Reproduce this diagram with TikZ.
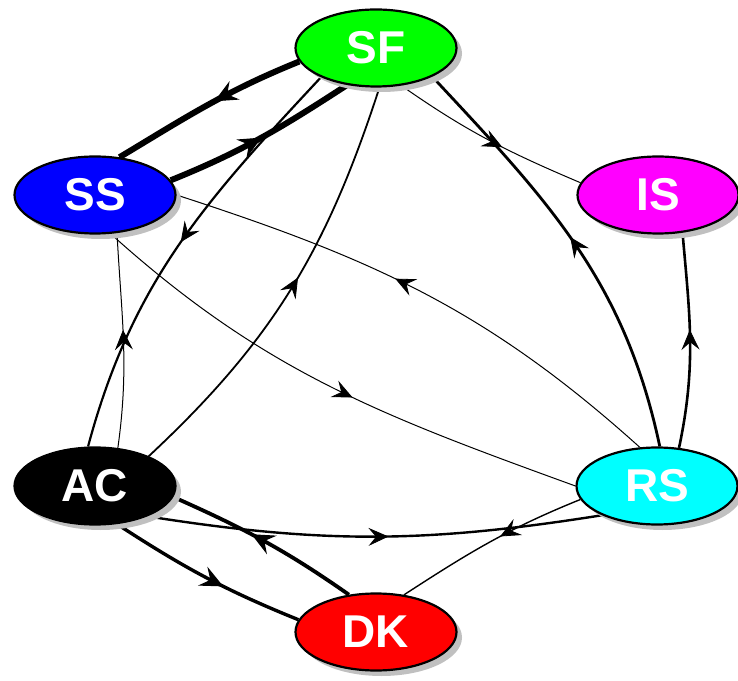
\documentclass[tikz,border=0pt]{standalone}
\usepackage{fontspec}
\setmainfont{Liberation Sans}
\usetikzlibrary{shapes.geometric,arrows.meta,decorations.markings,shadows}
\pgfdeclarelayer{bg}
\pgfsetlayers{bg,main}
\definecolor{cSF}{RGB}{0,255,0}
\definecolor{cSS}{RGB}{0,0,255}
\definecolor{cIS}{RGB}{255,0,255}
\definecolor{cRS}{RGB}{0,255,255}
\definecolor{cDK}{RGB}{255,0,0}
\definecolor{cShadow}{RGB}{192,192,192}
\tikzset{
  vtx/.style={ellipse, draw=black, line width=2.2pt, minimum width=161pt, minimum height=77pt,
    inner sep=0pt, text=white, font=\fontsize{46}{46}\selectfont\bfseries,
    drop shadow={shadow xshift=5.5pt, shadow yshift=-5.5pt, fill=cShadow, opacity=1}},
  lnk/.style={line width=#1},
  am/.style={postaction={decorate}, decoration={markings,
    mark=at position #1 with {\arrow{Stealth[length=20pt,width=18pt,inset=7.5pt,line width=0.8pt]}}}},
  amb/.style={postaction={decorate}, decoration={markings,
    mark=at position #1 with {\arrow{Stealth[length=23pt,width=21pt,inset=8.5pt,line width=1pt]}}}}
}
\begin{document}
\begin{tikzpicture}[x=1pt,y=1pt]
\useasboundingbox (0,0) rectangle (738,680);
\node[vtx, fill=cSF]   (SF) at (376,632) {SF};
\node[vtx, fill=cSS]   (SS) at (95,485)  {SS};
\node[vtx, fill=cIS]   (IS) at (658,485) {IS};
\node[vtx, fill=black] (AC) at (95,194)  {AC};
\node[vtx, fill=cRS]   (RS) at (657,194) {RS};
\node[vtx, fill=cDK]   (DK) at (376,48)  {DK};
\begin{pgfonlayer}{bg}
\draw[lnk=6pt,   amb=0.46] (SF.190) to[out=202,in=31] (SS.57);
\draw[lnk=6pt,   amb=0.5]  (SS.11) to[out=22,in=213] (SF.232);
\draw[lnk=2.2pt, am=0.49] (SF.208) to[out=227,in=75] (AC.100);
\draw[lnk=1.8pt, am=0.53] (AC.29) to[out=43,in=252] (SF.275);
\draw[lnk=1pt,   am=0.55] (SS.292) to[out=318,in=160] (RS.180);
\draw[lnk=1pt,   am=0.56] (RS.114) to[out=138,in=342] (SS.0);
\draw[lnk=1pt,   am=0.55] (AC.59) to[out=82,in=273] (SS.300);
\draw[lnk=2.8pt, am=0.52] (RS.86) to[out=102,in=313] (SF.333);
\draw[lnk=1pt,   am=0.58] (SF.304) to[out=325,in=157] (IS.171);
\draw[lnk=2.6pt, am=0.55] (RS.60) to[out=78,in=275] (IS.303);
\draw[lnk=2.4pt, am=0.53] (AC.-30) to[out=-9,in=189] (RS.208);
\draw[lnk=1.4pt, am=0.44] (RS.190) to[out=202,in=33] (DK.53);
\draw[lnk=3.8pt, amb=0.57] (DK.126) to[out=145,in=336] (AC.-8);
\draw[lnk=3.4pt, amb=0.6]  (AC.-60) to[out=327,in=158] (DK.171);
\end{pgfonlayer}
\end{tikzpicture}
\end{document}
